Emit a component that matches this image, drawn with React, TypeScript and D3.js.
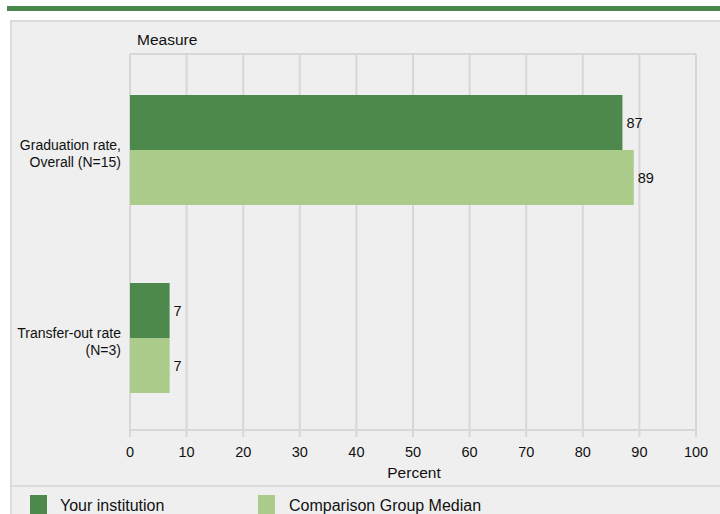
import React from "react";
import * as d3 from "d3";

const categories = [
  ["Graduation rate,", "Overall (N=15)"],
  ["Transfer-out rate", "(N=3)"],
];
const categoryKeys = ["grad", "transfer"];
const seriesNames = ["Your institution", "Comparison Group Median"];
const yourInstitution = [87, 7];
const comparisonMedian = [89, 7];
const xTicks = [0, 10, 20, 30, 40, 50, 60, 70, 80, 90, 100];

const DARK = "#4d894d";
const LIGHT = "#aacb89";
const GRID = "#d7d7d7";
const FONT = "Liberation Sans, Arial, sans-serif";

export default function App() {
  const W = 720, H = 514;
  const left = 130, right = 696, top = 54, bottom = 430;
  const x = d3.scaleLinear().domain([0, 100]).range([left, right]);
  const y = d3.scaleBand<string>().domain(categoryKeys).range([top + 2, bottom + 2]);
  const barH = 55;
  const series = [yourInstitution, comparisonMedian];
  const colors = [DARK, LIGHT];

  return (
    <svg width={W} height={H} style={{ position: "absolute", left: 0, top: 0, display: "block" }} fontFamily={FONT}>
      <rect x={0} y={0} width={W} height={H} fill="#ffffff" />
      <rect x={7} y={6} width={W - 7} height={5} fill="#4a874a" />
      <rect x={10} y={20} width={W - 10} height={H - 20} fill="#efefef" />
      <line x1={10} y1={21} x2={W} y2={21} stroke="#dcdcdc" strokeWidth={2} />
      <line x1={11} y1={20} x2={11} y2={H} stroke="#dcdcdc" strokeWidth={2} />
      <line x1={10} y1={486} x2={W} y2={486} stroke="#dcdcdc" strokeWidth={2} />

      <text x={137} y={45} fontSize={15.5} fill="#111">Measure</text>

      {/* plot box & grid */}
      <line x1={left} y1={top} x2={right} y2={top} stroke={GRID} strokeWidth={2} />
      {xTicks.map((t) => (
        <g key={t}>
          <line x1={x(t)} y1={top} x2={x(t)} y2={bottom + 7} stroke={GRID} strokeWidth={2} />
          <text x={x(t)} y={457} fontSize={14.5} textAnchor="middle" fill="#111">{t}</text>
        </g>
      ))}
      <line x1={left} y1={bottom} x2={right} y2={bottom} stroke={GRID} strokeWidth={2} />

      {categoryKeys.map((k, i) => {
        const cy = (y(k) as number) + y.bandwidth() / 2;
        return (
          <g key={k}>
            {series.map((s, j) => {
              const by = cy - barH + j * barH;
              return (
                <g key={j}>
                  <rect x={x(0)} y={by} width={x(s[i]) - x(0)} height={barH} fill={colors[j]} />
                  <text x={x(s[i]) + 4} y={by + barH / 2 + 5} fontSize={14.5} fill="#111">{s[i]}</text>
                </g>
              );
            })}
            <text x={121} y={cy} fontSize={14} textAnchor="end" fill="#111">{categories[i][0]}</text>
            <text x={121} y={cy + 17} fontSize={14} textAnchor="end" fill="#111">{categories[i][1]}</text>
          </g>
        );
      })}

      <text x={(left + right) / 2 + 1} y={478} fontSize={15.5} textAnchor="middle" fill="#111">Percent</text>

      <rect x={30} y={495} width={17} height={20} fill={DARK} />
      <text x={60} y={511} fontSize={16} fill="#111">{seriesNames[0]}</text>
      <rect x={258} y={495} width={17} height={20} fill={LIGHT} />
      <text x={289} y={511} fontSize={16} fill="#111">{seriesNames[1]}</text>
    </svg>
  );
}
